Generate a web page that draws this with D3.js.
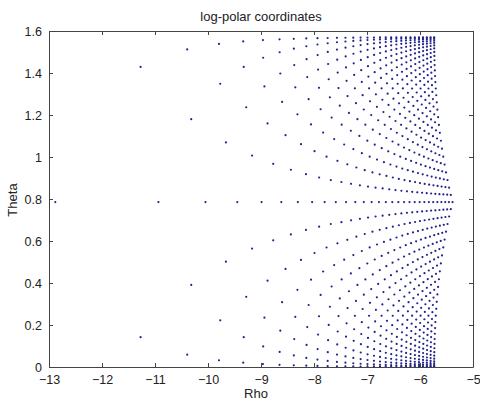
<!DOCTYPE html>
<html>
<head>
<meta charset="utf-8">
<script src="https://cdn.jsdelivr.net/npm/d3@7"></script>
<style>
  body { margin: 0; background: #fff; }
  svg { font-family: "Liberation Sans", Arial, sans-serif; }
</style>
</head>
<body>
<div id="chart"></div>
<script>
const gridPos = [1.8, 12.6, 30.6, 55.8, 88.2, 128, 175, 229, 290, 358,
                 434, 517, 607, 704, 808, 920, 1039, 1165, 1298, 1438,
                 1586, 1741, 1903, 2072, 2248, 2432, 2623, 2821, 3026, 3238];
const rhoTicks = [-13, -12, -11, -10, -9, -8, -7, -6, -5];
const thetaTicks = [0, 0.2, 0.4, 0.6, 0.8, 1, 1.2, 1.4, 1.6];

const width = 480, height = 403;
const margin = { top: 31, right: 7, bottom: 36, left: 49 };

const svg = d3.select("#chart")
  .append("svg")
  .attr("width", width)
  .attr("height", height);

const x = d3.scaleLinear()
  .domain([-13, -5])
  .range([margin.left, width - margin.right]);

const y = d3.scaleLinear()
  .domain([0, 1.6])
  .range([height - margin.bottom, margin.top]);

// log-polar transform of every grid point
const points = [];
gridPos.forEach(gx => {
  gridPos.forEach(gy => {
    const px = gx * 1e-6, py = gy * 1e-6;
    points.push({ rho: Math.log(Math.hypot(px, py)), theta: Math.atan2(py, px) });
  });
});

svg.append("g")
  .selectAll("circle")
  .data(points)
  .join("circle")
    .attr("cx", d => x(d.rho))
    .attr("cy", d => y(d.theta))
    .attr("r", 1.1)
    .attr("fill", "#23238c");

// axes, ticks pointing inward like matlab
const x0 = margin.left, x1 = width - margin.right;
const y0 = height - margin.bottom, y1 = margin.top;

svg.append("g")
  .attr("transform", `translate(0,${y0})`)
  .call(d3.axisBottom(x).tickValues(rhoTicks).tickSizeInner(-4).tickSizeOuter(0).tickPadding(8))
  .call(g => g.selectAll("text").attr("font-size", "12.5px").attr("fill", "#222"));

svg.append("g")
  .attr("transform", `translate(0,${y1})`)
  .call(d3.axisTop(x).tickValues(rhoTicks).tickSizeInner(-4).tickSizeOuter(0).tickFormat(""));

svg.append("g")
  .attr("transform", `translate(${x0},0)`)
  .call(d3.axisLeft(y).tickValues(thetaTicks).tickSizeInner(-4).tickSizeOuter(0).tickPadding(7)
    .tickFormat(d3.format("~g")))
  .call(g => g.selectAll("text").attr("font-size", "12.5px").attr("fill", "#222"));

svg.append("g")
  .attr("transform", `translate(${x1},0)`)
  .call(d3.axisRight(y).tickValues(thetaTicks).tickSizeInner(-4).tickSizeOuter(0).tickFormat(""));

svg.selectAll(".domain").attr("stroke", "#444");
svg.selectAll(".tick line").attr("stroke", "#444");

svg.append("text")
  .attr("x", (x0 + x1) / 2)
  .attr("y", 21)
  .attr("text-anchor", "middle")
  .attr("font-size", "13px")
  .attr("fill", "#222")
  .text("log-polar coordinates");

svg.append("text")
  .attr("x", 256)
  .attr("y", 398)
  .attr("text-anchor", "middle")
  .attr("font-size", "13px")
  .attr("fill", "#222")
  .text("Rho");

svg.append("text")
  .attr("transform", "translate(17,200) rotate(-90)")
  .attr("text-anchor", "middle")
  .attr("font-size", "13px")
  .attr("fill", "#222")
  .text("Theta");
</script>
</body>
</html>
